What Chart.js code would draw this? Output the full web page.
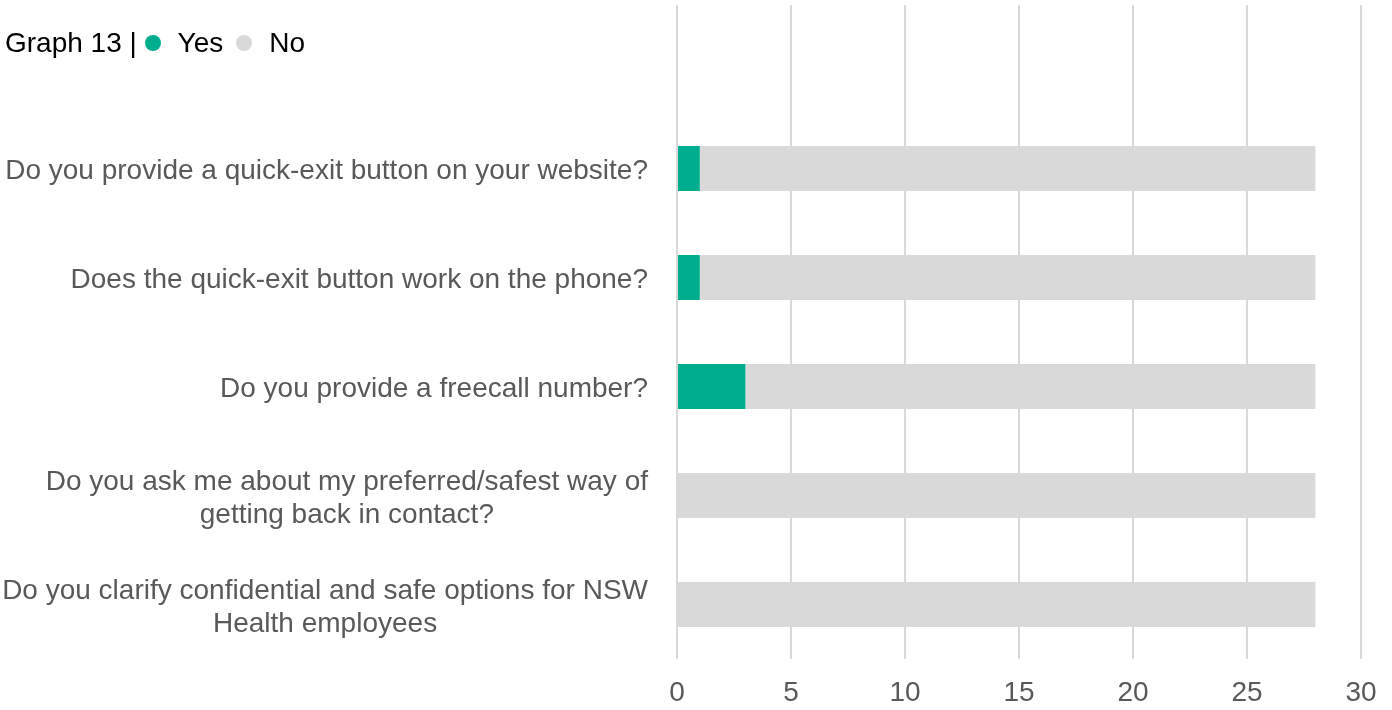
<!DOCTYPE html>
<html>
<head>
<meta charset="utf-8">
<script src="https://cdn.jsdelivr.net/npm/chart.js@4.4.0/dist/chart.umd.min.js"></script>
<style>
    body { margin: 0; background: #fff; }
    #wrap { position: relative; width: 1392px; height: 710px; }
    #legenda {
        position: absolute; left: 5px; top: 27px;
        font: 28px "Liberation Sans", Arial, sans-serif; color: #000;
        display: flex; align-items: center; white-space: pre;
    }
    .dot { display: inline-block; width: 16px; height: 16px; border-radius: 50%; }
</style>
</head>
<body>
<div id="wrap">
    <canvas id="grafico" width="1392" height="710"></canvas>
    <div id="legenda">
        <span>Graph 13 | </span>
        <span class="dot" style="background:#00ae8e; margin-left:0px"></span>
        <span style="margin-left:17px">Yes</span>
        <span class="dot" style="background:#d9d9d9; margin-left:13px"></span>
        <span style="margin-left:17px">No</span>
    </div>
</div>
<script>
// perguntas (cada linha do rótulo separada)
const perguntas = [
    ['Do you provide a quick-exit button on your website?'],
    ['Does the quick-exit button work on the phone?'],
    ['Do you provide a freecall number?'],
    ['Do you ask me about my preferred/safest way of', 'getting back in contact?'],
    ['Do you clarify confidential and safe options for NSW', 'Health employees']
];
const respostasSim = [1, 1, 3, 0, 0];
const respostasNao = [27, 27, 25, 28, 28];
const ticksX = [0, 5, 10, 15, 20, 25, 30];

const FONTE = '"Liberation Sans", Arial, sans-serif';
const COR_TEXTO = '#595959';

// primeira linha vazia reserva o espaço da legenda
const labels = [''].concat(perguntas.map(p => p.join(' ')));
const dadosSim = [null].concat(respostasSim);
const dadosNao = [null].concat(respostasNao);

// desenha os rótulos das perguntas (cada bloco centralizado, alinhado à direita)
const rotulosPlugin = {
    id: 'rotulos',
    afterDraw(chart) {
        const ctx = chart.ctx;
        const y = chart.scales.y;
        ctx.save();
        ctx.font = '28px ' + FONTE;
        ctx.fillStyle = COR_TEXTO;
        ctx.textAlign = 'center';
        ctx.textBaseline = 'middle';
        perguntas.forEach((linhas, i) => {
            const yc = y.getPixelForValue(i + 1) + 3;
            const largura = Math.max(...linhas.map(l => ctx.measureText(l).width));
            const xc = 648 - largura / 2;
            linhas.forEach((l, j) => {
                ctx.fillText(l, xc, yc + (j - (linhas.length - 1) / 2) * 33);
            });
        });
        ctx.restore();
    }
};

new Chart(document.getElementById('grafico'), {
    type: 'bar',
    data: {
        labels: labels,
        datasets: [
            { label: 'Yes', data: dadosSim, backgroundColor: '#00ae8e', barPercentage: 0.413, categoryPercentage: 1 },
            { label: 'No', data: dadosNao, backgroundColor: '#d9d9d9', barPercentage: 0.413, categoryPercentage: 1 }
        ]
    },
    options: {
        indexAxis: 'y',
        responsive: false,
        animation: false,
        layout: { padding: { top: 5, right: 31, left: 0, bottom: 0 } },
        plugins: { legend: { display: false }, tooltip: { enabled: false } },
        scales: {
            x: {
                stacked: true,
                min: 0,
                max: 30,
                afterBuildTicks: s => { s.ticks = ticksX.map(v => ({ value: v })); },
                grid: { color: '#d9d9d9', lineWidth: 2, drawTicks: false },
                border: { display: false },
                ticks: { color: COR_TEXTO, font: { family: FONTE, size: 28 }, padding: 17 },
                afterFit: s => { s.height = 51; s.paddingRight = 0; s.paddingLeft = 0; }
            },
            y: {
                stacked: true,
                grid: { display: false },
                border: { display: false },
                ticks: { display: false },
                afterFit: s => { s.width = 677; }
            }
        }
    },
    plugins: [rotulosPlugin]
});
</script>
</body>
</html>
